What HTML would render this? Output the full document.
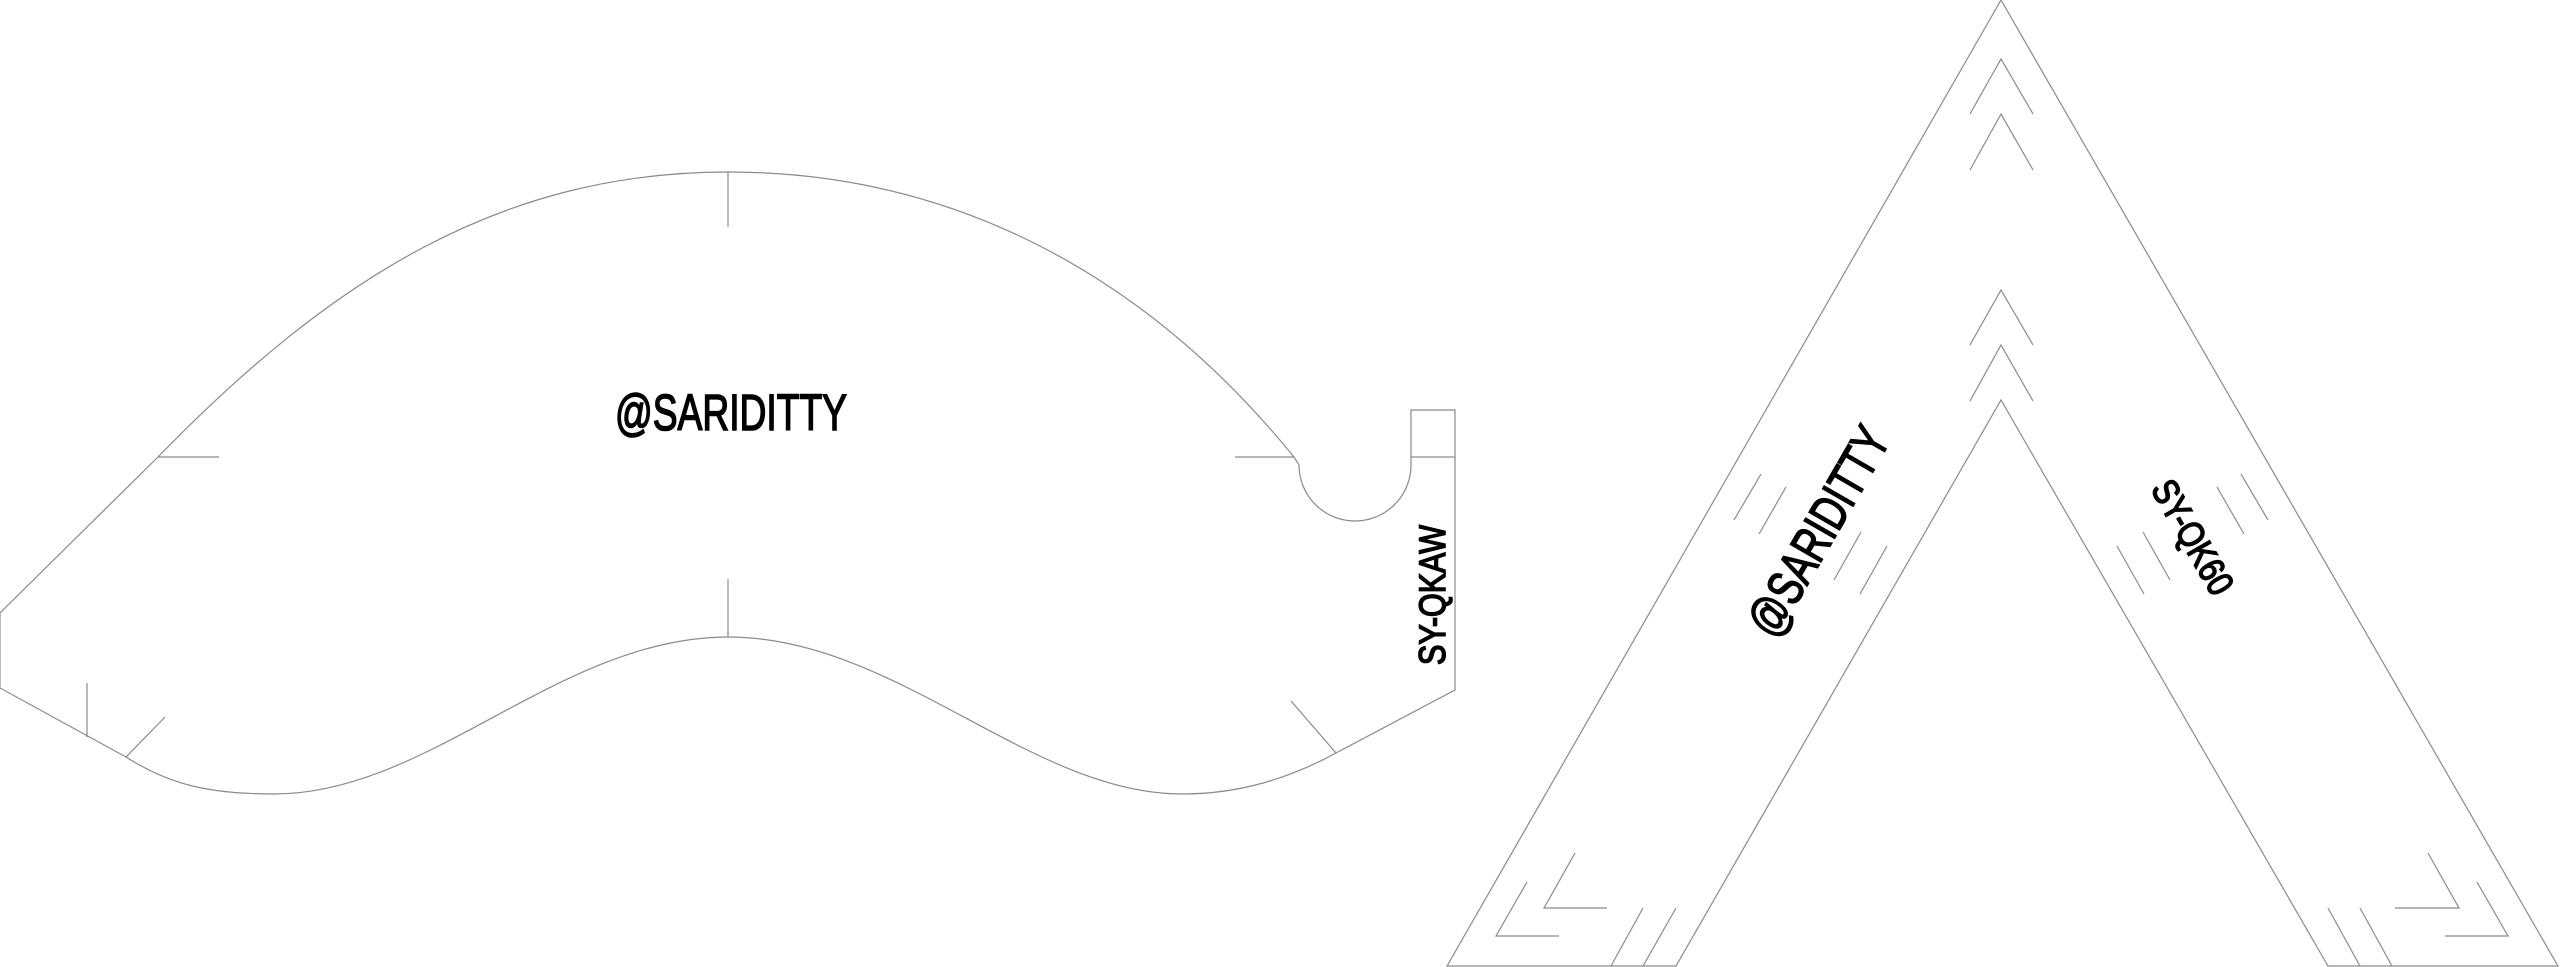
<!DOCTYPE html>
<html><head><meta charset="utf-8"><style>
html,body{margin:0;padding:0;background:#fff;width:2560px;height:967px;overflow:hidden}
svg{display:block}
text{font-family:"Liberation Sans",sans-serif;fill:#000;stroke:#000;stroke-width:1.6}
</style></head><body>
<svg width="2560" height="967" viewBox="0 0 2560 967" xmlns="http://www.w3.org/2000/svg">
<g fill="none" stroke="#8a8a8a" stroke-width="1.2">
<path d="M0,613 L158,457 C330,280 500,172 728,172 C960,172 1150,280 1294,457 L1299,465 A56,56 0 0 0 1411,465 L1411,410 L1455,410 L1455,690 L1336,753 C1290,778 1240,794 1182,794 C1030,794 896,637 728,637 C560,637 430,794 274,794 C210,794 170,785 126,757 L0,688 Z"/>
<line x1="1411" y1="457" x2="1455" y2="457"/>
<line x1="158" y1="457" x2="219" y2="457"/>
<line x1="1235" y1="457" x2="1294" y2="457"/>
<line x1="728" y1="172" x2="728" y2="227"/>
<line x1="728" y1="579" x2="728" y2="637"/>
<line x1="87" y1="683" x2="87" y2="737"/>
<line x1="126" y1="757" x2="165" y2="717"/>
<line x1="1291" y1="701" x2="1336" y2="753"/>
<path d="M2001,0 L2558,966 L2328,966 L2001,400 L1676,966 L1447,966 Z"/>
<polyline points="1970,114 2001,59 2033,114"/>
<polyline points="1970,170 2001,114 2033,170"/>
<polyline points="1970,345 2001,290 2033,345"/>
<polyline points="1970,401 2001,345 2033,401"/>
<line x1="1734" y1="520" x2="1761" y2="474"/>
<line x1="1759" y1="534" x2="1786" y2="487"/>
<line x1="1834" y1="580" x2="1861" y2="532"/>
<line x1="1860" y1="594" x2="1887" y2="546"/>
<line x1="2241" y1="474" x2="2268" y2="520"/>
<line x1="2217" y1="487" x2="2244" y2="534"/>
<line x1="2143" y1="532" x2="2170" y2="580"/>
<line x1="2117" y1="546" x2="2144" y2="594"/>
<polyline points="1527,882 1496,936 1559,936"/>
<polyline points="1575,853 1544,908 1607,908"/>
<line x1="1611" y1="966" x2="1643" y2="908"/>
<line x1="1643" y1="966" x2="1676" y2="908"/>
<polyline points="2428,853 2459,908 2395,908"/>
<polyline points="2477,882 2508,936 2445,936"/>
<line x1="2328" y1="908" x2="2360" y2="966"/>
<line x1="2360" y1="908" x2="2392" y2="966"/>
</g>
<text x="731" y="430" font-size="51" text-anchor="middle" textLength="232" lengthAdjust="spacingAndGlyphs">@SARIDITTY</text>
<text transform="translate(1445,595) rotate(-90)" x="0" y="0" font-size="37" text-anchor="middle" textLength="140" lengthAdjust="spacingAndGlyphs">SY-QKAW</text>
<text transform="translate(1818,531) rotate(-60)" x="0" y="18" font-size="51" text-anchor="middle" textLength="232" lengthAdjust="spacingAndGlyphs">@SARIDITTY</text>
<text transform="translate(2193,537) rotate(60)" x="0" y="13" font-size="37" text-anchor="middle" textLength="126" lengthAdjust="spacingAndGlyphs">SY-QK60</text>
</svg>
</body></html>
